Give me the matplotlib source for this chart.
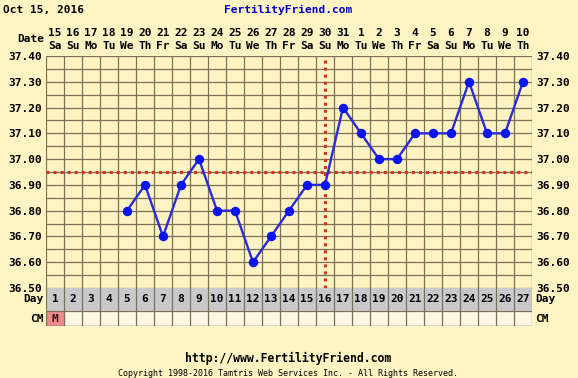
import matplotlib
matplotlib.use("Agg")
import matplotlib.pyplot as plt
import numpy as np

# chart data
cycle_days = list(range(1, 28))
date_nums = ["15", "16", "17", "18", "19", "20", "21", "22", "23", "24", "25",
             "26", "27", "28", "29", "30", "31", "1", "2", "3", "4", "5", "6",
             "7", "8", "9", "10"]
weekdays = ["Sa", "Su", "Mo", "Tu", "We", "Th", "Fr"] * 3 + ["Sa", "Su", "Mo",
                                                            "Tu", "We", "Th"]
temps = [None, None, None, None, 36.80, 36.90, 36.70, 36.90, 37.00, 36.80,
         36.80, 36.60, 36.70, 36.80, 36.90, 36.90, 37.20, 37.10, 37.00, 37.00,
         37.10, 37.10, 37.10, 37.30, 37.10, 37.10, 37.30]
cm_marks = {1: "M"}
coverline = 36.95
ovulation_day = 16
y_ticks = [36.5 + 0.1 * i for i in range(10)]

W, H = 578, 378
bg = "#fdf3c3"
grid_c = "#7a7257"
font = "DejaVu Sans Mono"

fig = plt.figure(figsize=(W / 100, H / 100), dpi=100, facecolor=bg)


def fx(px):
    return px / W


def fy(py):
    return 1 - py / H


left, right, top, bottom = 46, 532, 56, 288
ax = fig.add_axes([fx(left), fy(bottom), fx(right - left), (bottom - top) / H])
ax.set_facecolor(bg)
ax.set_xlim(0.5, 27.5)
ax.set_ylim(36.5, 37.4)

# grid
for k in range(28):
    ax.axvline(0.5 + k, color=grid_c, lw=0.9, zorder=1)
for v in np.arange(36.5, 37.41, 0.05):
    ax.axhline(v, color=grid_c, lw=0.9, zorder=1)

# coverline and ovulation
dots = (0, (1.0, 1.3))
ax.axhline(coverline, color="#d8321f", lw=2.2, ls=dots, zorder=2)
ax.axvline(ovulation_day, color="#d8321f", lw=2.2, ls=dots, zorder=2)

xs = [d for d, t in zip(cycle_days, temps) if t is not None]
ys = [t for t in temps if t is not None]
ax.plot(xs, ys, color="#2b2bd8", lw=1.7, marker="o", ms=5.8,
        mfc="#0a14f0", mec="#0a14f0", zorder=3, clip_on=False)

ax.set_xticks([])
ax.set_yticks(y_ticks)
ax.set_yticklabels([f"{v:.2f}" for v in y_ticks], fontfamily=font,
                   fontweight="bold", fontsize=8)
ax.tick_params(axis="y", length=0, pad=3, labelright=True, labelleft=True)
for s in ax.spines.values():
    s.set_visible(False)

# date header
trans = ax.get_xaxis_transform()
for d, n, w in zip(cycle_days, date_nums, weekdays):
    ax.text(d, (bottom - 33) / (bottom - top), n, transform=trans,
            ha="center", va="center", fontfamily=font, fontweight="bold",
            fontsize=8)
    ax.text(d, (bottom - 46) / (bottom - top), w, transform=trans,
            ha="center", va="center", fontfamily=font, fontweight="bold",
            fontsize=8)
fig.text(fx(44), fy(39), "Date", ha="right", va="center", fontfamily=font,
         fontweight="bold", fontsize=8)

# day / CM rows
axd = fig.add_axes([fx(left), fy(326), fx(right - left), 38 / H])
axd.set_xlim(0.5, 27.5)
axd.set_ylim(0, 38)
axd.axhspan(15, 38, color="#c9c9c9", zorder=0)
axd.axhspan(0, 15, color="#fff6e3", zorder=0)
for d in cycle_days:
    axd.text(d, 26.5, str(d), ha="center", va="center", fontfamily=font,
             fontweight="bold", fontsize=8)
    if d in cm_marks:
        axd.add_patch(plt.Rectangle((d - 0.5, 0), 1, 15, color="#ee8a8e",
                                    zorder=1))
        axd.text(d, 7.5, cm_marks[d], ha="center", va="center",
                 fontfamily=font, fontweight="bold", fontsize=8,
                 color="#3a1010")
for k in range(28):
    axd.axvline(0.5 + k, color=grid_c, lw=0.9, zorder=2)
axd.axhline(15, color=grid_c, lw=0.9, zorder=2)
axd.axhline(0.3, color="#555555", lw=1, zorder=2)
axd.axis("off")
for lbl, py in [("Day", 299.5), ("CM", 319)]:
    fig.text(fx(44), fy(py), lbl, ha="right", va="center", fontfamily=font,
             fontweight="bold", fontsize=8)
    fig.text(fx(535), fy(py), lbl, ha="left", va="center", fontfamily=font,
             fontweight="bold", fontsize=8)

# titles and footer
fig.text(fx(3), fy(10), "Oct 15, 2016", ha="left", va="center",
         fontfamily=font, fontweight="bold", fontsize=8)
fig.text(fx(288), fy(10), "FertilityFriend.com", ha="center", va="center",
         fontfamily=font, fontweight="bold", fontsize=8, color="#0000c0")
fig.text(fx(288), fy(358), "http://www.FertilityFriend.com", ha="center",
         va="center", fontfamily=font, fontweight="bold", fontsize=8.3)
fig.text(fx(288), fy(373), "Copyright 1998-2016 Tamtris Web Services Inc. - "
         "All Rights Reserved.", ha="center", va="center", fontfamily=font,
         fontsize=6)

fig.savefig("out.png", dpi=100, facecolor=bg)
